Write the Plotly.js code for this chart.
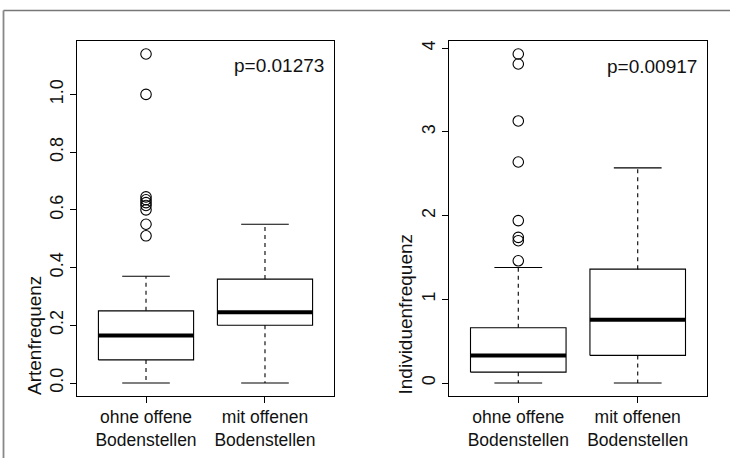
<!DOCTYPE html>
<html>
<head>
<meta charset="utf-8">
<script src="https://cdn.plot.ly/plotly-3.0.1.min.js"></script>
<style>
html,body{margin:0;padding:0;background:#fff;}
#chart{width:730px;height:458px;}
</style>
</head>
<body>
<div id="chart"></div>
<script>
// ---- data ----
const categories = ['ohne offene<br>Bodenstellen', 'mit offenen<br>Bodenstellen'];
const groupPos = [1, 2];

// Artenfrequenz (left panel)
const artLower  = [0.0, 0.0];
const artQ1     = [0.08, 0.20];
const artMedian = [0.165, 0.245];
const artQ3     = [0.25, 0.36];
const artUpper  = [0.37, 0.55];
const artOutliers = [1.14, 1.0, 0.645, 0.635, 0.625, 0.615, 0.60, 0.55, 0.51];
const artP = 'p=0.01273';

// Individuenfrequenz (right panel)
const indLower  = [0.0, 0.0];
const indQ1     = [0.13, 0.33];
const indMedian = [0.33, 0.755];
const indQ3     = [0.66, 1.36];
const indUpper  = [1.38, 2.57];
const indOutliers = [3.93, 3.81, 3.13, 2.64, 1.94, 1.74, 1.70, 1.46];
const indP = 'p=0.00917';

const yTitleLeft = 'Artenfrequenz';
const yTitleRight = 'Individuenfrequenz';

// ---- build traces ----
const FONT = '"Liberation Sans", Arial, Helvetica, sans-serif';
const HALF = 0.4, STAPLE = 0.2;

function boxTraces(lower, q1, med, q3, upper, outliers, xa, ya) {
  const bx = [], by = [], mx = [], my = [], wx = [], wy = [], sx = [], sy = [];
  groupPos.forEach((p, i) => {
    bx.push(p - HALF, p + HALF, p + HALF, p - HALF, p - HALF, null);
    by.push(q1[i], q1[i], q3[i], q3[i], q1[i], null);
    mx.push(p - HALF, p + HALF, null);
    my.push(med[i], med[i], null);
    wx.push(p, p, null, p, p, null);
    wy.push(q3[i], upper[i], null, q1[i], lower[i], null);
    sx.push(p - STAPLE, p + STAPLE, null, p - STAPLE, p + STAPLE, null);
    sy.push(upper[i], upper[i], null, lower[i], lower[i], null);
  });
  const common = {xaxis: xa, yaxis: ya, mode: 'lines', hoverinfo: 'skip', showlegend: false};
  return [
    Object.assign({x: wx, y: wy, line: {color: '#000', width: 1.1, dash: '4px,4px'}}, common),
    Object.assign({x: sx, y: sy, line: {color: '#000', width: 1.1}}, common),
    Object.assign({x: bx, y: by, line: {color: '#000', width: 1.1}}, common),
    Object.assign({x: mx, y: my, line: {color: '#000', width: 4}}, common),
    {x: outliers.map(() => groupPos[0]), y: outliers, xaxis: xa, yaxis: ya, mode: 'markers',
     showlegend: false, hoverinfo: 'y',
     marker: {symbol: 'circle-open', size: 10.5, color: '#000', line: {width: 1.1, color: '#000'}}}
  ];
}

const data = [].concat(
  boxTraces(artLower, artQ1, artMedian, artQ3, artUpper, artOutliers, 'x', 'y'),
  boxTraces(indLower, indQ1, indMedian, indQ3, indUpper, indOutliers, 'x2', 'y2')
);

function xAxis(domain, anchor) {
  return {domain: domain, anchor: anchor, range: [0.42, 2.58], tickvals: groupPos, ticktext: categories,
    showline: true, mirror: true, linecolor: '#000', linewidth: 1.3, showgrid: false, zeroline: false,
    ticks: 'outside', ticklen: 6, tickwidth: 1, tickcolor: '#000', ticklabelstandoff: -1,
    tickfont: {family: FONT, size: 17.5, color: '#111'}, fixedrange: true};
}
function yAxis(domain, anchor, range, dtick, fmt) {
  return {domain: domain, anchor: anchor, range: range, dtick: dtick, tick0: 0, tickformat: fmt,
    tickangle: -90, showline: true, mirror: true, linecolor: '#000', linewidth: 1.3,
    showgrid: false, zeroline: false, ticks: 'outside', ticklen: 6, tickwidth: 1, tickcolor: '#000',
    tickfont: {family: FONT, size: 18, color: '#111'}, fixedrange: true};
}

const yDom = [1 - 396 / 458, 1 - 41 / 458];
const layout = {
  width: 730, height: 458,
  margin: {l: 0, r: 0, t: 0, b: 0},
  paper_bgcolor: '#fff', plot_bgcolor: '#fff',
  showlegend: false,
  xaxis: xAxis([77 / 730, 334 / 730], 'y'),
  yaxis: yAxis(yDom, 'x', [-0.045, 1.185], 0.2, '.1f'),
  xaxis2: xAxis([449 / 730, 707 / 730], 'y2'),
  yaxis2: yAxis(yDom, 'x2', [-0.155, 4.085], 1, 'd'),
  annotations: [
    {text: yTitleLeft, xref: 'paper', yref: 'paper', x: 34.5 / 730, y: 1 - 397 / 458,
     xanchor: 'center', yanchor: 'bottom', textangle: -90, showarrow: false,
     font: {family: FONT, size: 19, color: '#111'}},
    {text: yTitleRight, xref: 'paper', yref: 'paper', x: 405 / 730, y: 1 - 397 / 458,
     xanchor: 'center', yanchor: 'bottom', textangle: -90, showarrow: false,
     font: {family: FONT, size: 19, color: '#111'}},
    {text: artP, xref: 'paper', yref: 'paper', x: 326 / 730, y: 1 - 65.5 / 458,
     xanchor: 'right', yanchor: 'middle', showarrow: false,
     font: {family: FONT, size: 19, color: '#111'}},
    {text: indP, xref: 'paper', yref: 'paper', x: 698.5 / 730, y: 1 - 67 / 458,
     xanchor: 'right', yanchor: 'middle', showarrow: false,
     font: {family: FONT, size: 19, color: '#111'}}
  ],
  shapes: [
    {type: 'line', xref: 'paper', yref: 'paper', x0: 3.5 / 730, x1: 1, y0: 1 - 10.5 / 458, y1: 1 - 10.5 / 458,
     line: {color: '#777', width: 1.5}},
    {type: 'line', xref: 'paper', yref: 'paper', x0: 3.5 / 730, x1: 3.5 / 730, y0: 0, y1: 1 - 10.5 / 458,
     line: {color: '#888', width: 1.8}}
  ]
};

Plotly.newPlot('chart', data, layout, {displayModeBar: false, staticPlot: true});
</script>
</body>
</html>
